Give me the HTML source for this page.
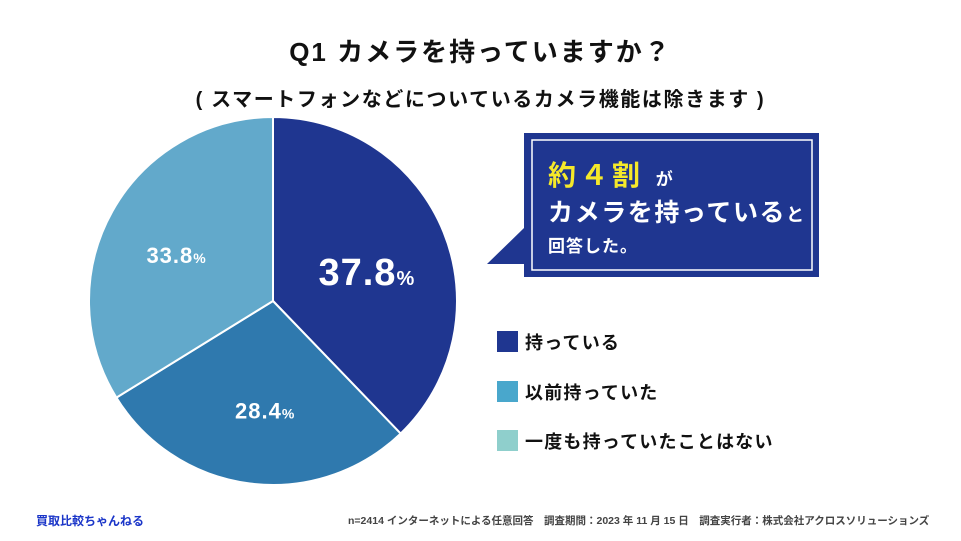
<!DOCTYPE html>
<html><head><meta charset="utf-8">
<style>
body{margin:0;width:961px;height:541px;background:#fff;font-family:"Liberation Sans","Noto Sans CJK JP",sans-serif;position:relative;overflow:hidden}
.t{position:absolute;font-weight:bold;white-space:nowrap}
</style></head><body>
<div class="t" style="left:0;width:961px;text-align:center;top:32px;font-size:26px;letter-spacing:2px;color:#111">Q1 カメラを持っていますか？</div>
<div class="t" style="left:0;width:961px;text-align:center;top:83px;font-size:20px;letter-spacing:1.6px;color:#111">( スマートフォンなどについているカメラ機能は除きます )</div>
<svg id="pie" width="961" height="541" style="position:absolute;left:0;top:0"></svg>
<svg width="961" height="541" style="position:absolute;left:0;top:0">
<polygon points="487,264 524,228 524,264" fill="#1f3690"/>
<rect x="524" y="133" width="295" height="144" fill="#1f3690"/>
<rect x="532" y="140" width="280" height="130" fill="none" stroke="#fff" stroke-width="1.5"/>
</svg>
<div class="t" style="left:548px;top:154px;font-size:28px;letter-spacing:4px;color:#f5e92a">約４割 <span style="font-size:17px;letter-spacing:0;color:#fff">が</span></div>
<div class="t" style="left:548px;top:193px;font-size:25px;letter-spacing:1.6px;color:#fff">カメラを持っている<span style="font-size:18px">と</span></div>
<div class="t" style="left:548px;top:232px;font-size:17px;letter-spacing:1px;color:#fff">回答した。</div>
<div id="legend"></div>
<div class="t" style="left:36px;top:512px;font-size:12px;color:#1a35c8">買取比較ちゃんねる</div>
<div class="t" style="left:348px;top:513px;font-size:10.5px;color:#444">n=2414 インターネットによる任意回答　調査期間：2023 年 11 月 15 日　調査実行者：株式会社アクロスソリューションズ</div>
<script>
const categories=["持っている","以前持っていた","一度も持っていたことはない"];
const values=[37.8,28.4,33.8];
const sliceColors=["#1f3690","#2f79ae","#62a9cb"];
const legendColors=["#1f3690","#49a7cc","#8fcfcc"];
const svg=document.getElementById('pie');
const NS="http://www.w3.org/2000/svg";
const cx=273,cy=301,r=184;
const total=values.reduce((a,b)=>a+b,0);
let a0=-Math.PI/2;
values.forEach((v,i)=>{
  const a1=a0+v/total*2*Math.PI;
  const x0=cx+r*Math.cos(a0),y0=cy+r*Math.sin(a0),x1=cx+r*Math.cos(a1),y1=cy+r*Math.sin(a1);
  const p=document.createElementNS(NS,'path');
  p.setAttribute('d',`M${cx},${cy}L${x0},${y0}A${r},${r} 0 ${a1-a0>Math.PI?1:0} 1 ${x1},${y1}Z`);
  p.setAttribute('fill',sliceColors[i]);p.setAttribute('stroke','#fff');p.setAttribute('stroke-width','2');
  
  
  svg.appendChild(p);
  const am=(a0+a1)/2, lr=i==0?r*0.55:r*0.6;
  const t=document.createElementNS(NS,'text');
  t.setAttribute('x',cx+lr*Math.cos(am)+(i==1?6:0));t.setAttribute('y',cy+lr*Math.sin(am)+(i==0?22:(i==1?8:16)));
  t.setAttribute('text-anchor','middle');t.setAttribute('fill','#fff');t.setAttribute('font-weight','bold');
  t.setAttribute('font-size',i==0?'38':'22');
  t.setAttribute('letter-spacing','1');
  t.innerHTML=v.toFixed(1)+`<tspan font-size="${i==0?20:14}">%</tspan>`;
  
  
  svg.appendChild(t);
  a0=a1;
});
const lg=document.getElementById('legend');
categories.forEach((c,i)=>{
  const y=331+i*49.5;
  const s=document.createElement('div');
  s.style.cssText=`position:absolute;left:497px;top:${y}px;width:21px;height:21px;background:${legendColors[i]}`;
  
  
  lg.appendChild(s);
  const t=document.createElement('div');
  t.className='t';t.style.cssText=`left:525px;top:${y-2}px;font-size:18px;letter-spacing:1.2px;color:#111`;
  t.textContent=c;
  
  
  lg.appendChild(t);
});
</script>
</body></html>
